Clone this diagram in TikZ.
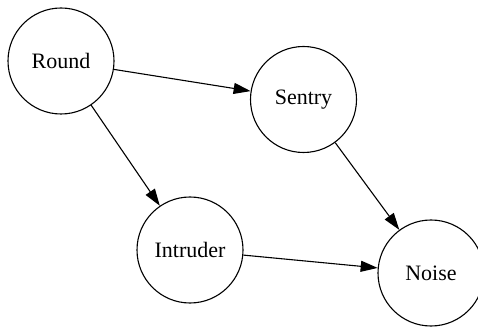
\documentclass[tikz,border=0pt]{standalone}
\usepackage{fontspec}
\setmainfont{Liberation Serif}
\usetikzlibrary{arrows.meta}

\begin{document}
\begin{tikzpicture}[
    x=1pt, y=1pt,
    state/.style={draw, circle, line width=1.1pt, minimum size=106pt, inner sep=0pt, font=\fontsize{22}{26}\selectfont},
    arrow/.style={-{Triangle[length=17pt, width=11pt]}, line width=1.1pt}
]
\useasboundingbox (0,0) rectangle (478,326);

% nodes
\node[state] (round) at (61,265) {Round};
\node[state] (sentry) at (303.5,226.5) {Sentry};
\node[state] (intruder) at (190,76) {Intruder};
\node[state] (noise) at (431,53) {Noise};

% edges
\draw[arrow] (round) -- (sentry);
\draw[arrow] (round) -- (intruder);
\draw[arrow] (sentry) -- (noise);
\draw[arrow] (intruder) -- (noise);

\end{tikzpicture}
\end{document}
